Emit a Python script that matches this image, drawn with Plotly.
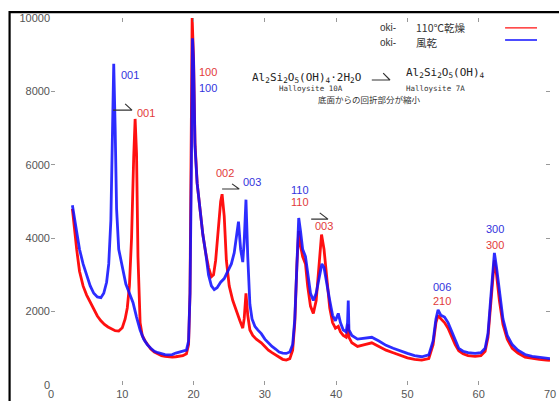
import plotly.graph_objects as go

# ---- data (2θ in degrees, intensity in counts) ----
blue_x = [3.0, 3.3, 3.6, 4.0, 4.5, 5.0, 5.5, 6.0, 6.5, 7.0, 7.4, 7.8, 8.1, 8.4, 8.6, 8.8, 9.0, 9.2, 9.5,
          10.0, 10.5, 11.0, 11.5, 12.0, 12.5, 13.0, 13.5, 14.0, 14.5, 15.0, 15.5, 16.0, 16.5, 17.0, 17.5,
          18.0, 18.5, 19.0, 19.3, 19.5, 19.7, 19.85, 20.0, 20.2, 20.5, 20.9, 21.3, 21.7, 22.1, 22.5, 22.9,
          23.3, 23.8, 24.3, 24.8, 25.3, 25.7, 26.0, 26.3, 26.6, 26.9, 27.1, 27.35, 27.6, 27.9, 28.2, 28.6,
          29.0, 29.5, 30.0, 30.5, 31.0, 31.5, 32.0, 32.5, 33.0, 33.5, 33.9, 34.2, 34.5, 34.75, 35.0, 35.3,
          35.7, 36.0, 36.4, 36.8, 37.2, 37.6, 38.0, 38.3, 38.7, 39.1, 39.5, 39.9, 40.3, 40.6, 41.0, 41.4,
          41.6, 41.7, 41.8, 42.2, 43.0, 44.0, 45.0, 46.0, 47.0, 48.0, 49.0, 50.0, 51.0, 52.0, 53.0, 53.6,
          54.0, 54.3, 54.7, 55.2, 55.7, 56.2, 56.7, 57.2, 57.8, 58.5, 59.5, 60.3, 60.9, 61.3, 61.7, 62.0,
          62.2, 62.5, 62.9, 63.4, 64.0, 64.7, 65.5, 66.5, 67.5, 68.5, 69.5, 70.0]
blue_y = [4900, 4500, 4100, 3700, 3300, 3000, 2700, 2500, 2400, 2380, 2500, 2800, 3300, 4500, 6800, 8750, 7000, 4800, 3700,
          3200, 2750, 2500, 2250, 1850, 1500, 1250, 1100, 1000, 920, 880, 850, 830, 820, 830, 870,
          900, 920, 950, 1200, 2500, 6000, 9450, 8800, 6500, 5500, 4700, 4100, 3600, 3000, 2700, 2600,
          2650, 2800, 2900, 3100, 3300, 3600, 4000, 4450, 3700, 3350, 3900, 5050, 3500, 2200, 1800, 1600,
          1500, 1400, 1250, 1150, 1050, 980, 900, 870, 860, 900, 1100, 1800, 3500, 4550, 4200, 3700,
          3500, 3000, 2500, 2300, 2500, 2900, 3300, 3200, 2700, 2300, 1900, 1750, 1950, 1700, 1500, 1450,
          1700, 2300, 1500, 1350, 1250, 1280, 1300, 1200, 1080, 1000, 920, 860, 800, 770, 820, 1200,
          1800, 2050, 1900, 1850, 1700, 1450, 1200, 1000, 920, 880, 860, 880, 1000, 1400, 2400, 3300,
          3600, 3200, 2500, 1800, 1350, 1100, 950, 830, 780, 760, 730, 720]

red_x = [3.0, 3.3, 3.6, 4.0, 4.5, 5.0, 5.5, 6.0, 6.5, 7.0, 7.5, 8.0, 8.5, 9.0, 9.5, 10.0, 10.4, 10.7, 11.0,
         11.3, 11.6, 11.8, 12.0, 12.2, 12.5, 12.8, 13.2, 13.6, 14.0, 14.5, 15.0, 15.5, 16.0, 16.5, 17.0,
         17.5, 18.0, 18.5, 19.0, 19.3, 19.5, 19.7, 19.8, 20.0, 20.2, 20.5, 20.9, 21.3, 21.7, 22.1, 22.5,
         22.8, 23.1, 23.5, 23.8, 24.0, 24.3, 24.6, 25.0, 25.5, 26.0, 26.5, 26.9, 27.1, 27.35, 27.6, 27.9,
         28.3, 28.8, 29.5, 30.0, 30.5, 31.0, 31.5, 32.0, 32.5, 33.0, 33.5, 33.9, 34.2, 34.5, 34.75, 35.0,
         35.3, 35.7, 36.0, 36.4, 36.8, 37.2, 37.6, 37.95, 38.3, 38.7, 39.1, 39.5, 39.9, 40.3, 40.6, 41.0,
         41.4, 41.7, 41.8, 42.2, 43.0, 44.0, 45.0, 46.0, 47.0, 48.0, 49.0, 50.0, 51.0, 52.0, 53.0, 53.6,
         54.0, 54.3, 54.7, 55.2, 55.7, 56.2, 56.7, 57.2, 57.8, 58.5, 59.5, 60.3, 60.9, 61.3, 61.7, 62.0,
         62.2, 62.5, 62.9, 63.4, 64.0, 64.7, 65.5, 66.5, 67.5, 68.5, 69.5, 70.0]
red_y = [4800, 4200, 3700, 3100, 2700, 2450, 2250, 2050, 1880, 1750, 1650, 1580, 1520, 1480, 1470, 1560, 1800, 2100, 2700,
         4000, 6200, 7250, 6300, 3500, 1700, 1350, 1200, 1080, 980, 900, 850, 800, 780, 760, 760,
         770, 790, 800, 850, 1100, 2500, 7000, 10000, 8900, 6600, 5500, 4700, 4100, 3600, 3200, 2950,
         3000, 3400, 4300, 5000, 5200, 4600, 3400, 2700, 2300, 2000, 1750, 1550, 1800, 2500, 1900, 1500,
         1350, 1250, 1150, 1050, 950, 880, 820, 760, 700, 680, 720, 950, 1700, 3300, 4200, 3800,
         3500, 3300, 2700, 2150, 1950, 2300, 3200, 4100, 3700, 2800, 2100, 1700, 1550, 1600, 1450, 1350,
         1300, 1650, 1300, 1150, 1050, 1100, 1150, 1050, 950, 880, 800, 740, 700, 680, 720, 1100,
         1700, 1900, 1800, 1700, 1550, 1300, 1100, 930, 850, 800, 780, 800, 920, 1300, 2200, 3100,
         3400, 3000, 2300, 1650, 1250, 1000, 870, 760, 720, 700, 680, 670]

x_ticks = [0, 10, 20, 30, 40, 50, 60, 70]
y_ticks = [0, 2000, 4000, 6000, 8000, 10000]

# peak labels: (text, x, y, colour key)
peak_labels = [
    ("001", 11.1, 8450, "b"), ("001", 13.3, 7410, "r"),
    ("100", 22.0, 8530, "r"), ("100", 22.0, 8090, "b"),
    ("002", 24.4, 5780, "r"), ("003", 28.2, 5530, "b"),
    ("110", 34.9, 5310, "b"), ("110", 34.9, 4990, "r"),
    ("003", 38.3, 4330, "r"),
    ("006", 54.9, 2670, "b"), ("210", 54.9, 2290, "r"),
    ("300", 62.3, 4250, "b"), ("300", 62.3, 3815, "r"),
]
# harpoon arrows: (x start, x tip, y, barb x, barb y)
arrows = [
    (8.7, 11.36, 7490, 10.4, 7660),
    (24.0, 26.4, 5340, 25.4, 5480),
    (36.5, 38.85, 4520, 37.7, 4690),
    (45.0, 47.55, 8310, 46.6, 8500),
]

RED = "#ff1010"
BLUE = "#1010ff"
LBL = {"b": "#3333dd", "r": "#e23a3a"}

fig = go.Figure()
fig.add_trace(go.Scatter(x=red_x, y=red_y, mode="lines", name="oki- 110℃乾燥",
                         line=dict(color=RED, width=2.8), showlegend=False))
fig.add_trace(go.Scatter(x=blue_x, y=blue_y, mode="lines", name="oki- 風乾",
                         line=dict(color="rgba(16,16,255,0.88)", width=2.8), showlegend=False))

for t, x, y, c in peak_labels:
    fig.add_annotation(x=x, y=y, text=t, showarrow=False,
                       font=dict(family="Liberation Sans, Arial", size=11, color=LBL[c]))

for xs, xt, y, bx, by in arrows:
    fig.add_trace(go.Scatter(x=[xs, xt, bx], y=[y, y, by], mode="lines",
                             line=dict(color="#333333", width=1.2), showlegend=False,
                             hoverinfo="skip"))

mono = "DejaVu Sans Mono, Liberation Mono, monospace"
fig.add_annotation(x=35.8, y=8365, text="Al<sub>2</sub>Si<sub>2</sub>O<sub>5</sub>(OH)<sub>4</sub>·2H<sub>2</sub>O",
                   showarrow=False, font=dict(family=mono, size=11, color="#222"))
fig.add_annotation(x=55.4, y=8500, text="Al<sub>2</sub>Si<sub>2</sub>O<sub>5</sub>(OH)<sub>4</sub>",
                   showarrow=False, font=dict(family=mono, size=11, color="#222"))
fig.add_annotation(x=36.5, y=8070, text="Halloysite 10A", showarrow=False,
                   font=dict(family=mono, size=7.5, color="#333"))
fig.add_annotation(x=54.0, y=8070, text="Halloysite 7A", showarrow=False,
                   font=dict(family=mono, size=7.5, color="#333"))
fig.add_annotation(x=44.7, y=7780, text="底面からの回折部分が縮小", showarrow=False,
                   font=dict(family="Noto Sans CJK JP", size=8.5, color="#333"))

# manual gnuplot-style key
key = [("oki-", "110℃乾燥", RED, 0.973, 0.973), ("oki-", "風乾", BLUE, 0.932, 0.940)]
for a, b, col, yp, yl in key:
    fig.add_annotation(xref="paper", yref="paper", x=0.695, y=yp, text=a, showarrow=False,
                       xanchor="right", yanchor="middle",
                       font=dict(family="Liberation Sans, Arial", size=10, color="#333"))
    fig.add_annotation(xref="paper", yref="paper", x=0.727, y=yp, text=b, showarrow=False,
                       xanchor="left", yanchor="middle",
                       font=dict(family="Noto Sans CJK JP", size=10.5, color="#333"))
    fig.add_shape(type="line", xref="paper", yref="paper", x0=0.91, x1=0.974,
                  y0=yl, y1=yl, line=dict(color=col, width=1.3))

# outer black frame of the screenshot
fig.add_shape(type="rect", xref="paper", yref="paper", x0=-0.083, x1=1.1, y0=-0.2, y1=1.016,
              line=dict(color="black", width=2.2), layer="above")

axis_common = dict(showgrid=False, zeroline=False, showline=False, ticks="inside", ticklen=4,
                   tickcolor="#999", mirror="ticks", automargin=False,
                   tickfont=dict(family="Liberation Sans, Arial", size=11, color="#555"))
fig.update_xaxes(range=[0, 70], tickvals=x_ticks, ticktext=[str(v) for v in x_ticks],
                 ticklabelstandoff=1, **axis_common)
fig.update_yaxes(range=[0, 10000], tickvals=y_ticks, ticktext=[str(v) for v in y_ticks], **axis_common)

fig.update_layout(width=559, height=401, margin=dict(l=51, r=9, t=18, b=16),
                  paper_bgcolor="white", plot_bgcolor="white", showlegend=False)
fig.write_html("out.html", config={"displayModeBar": False},
               post_script="document.body.style.margin='0px';document.body.style.overflow='hidden';")
